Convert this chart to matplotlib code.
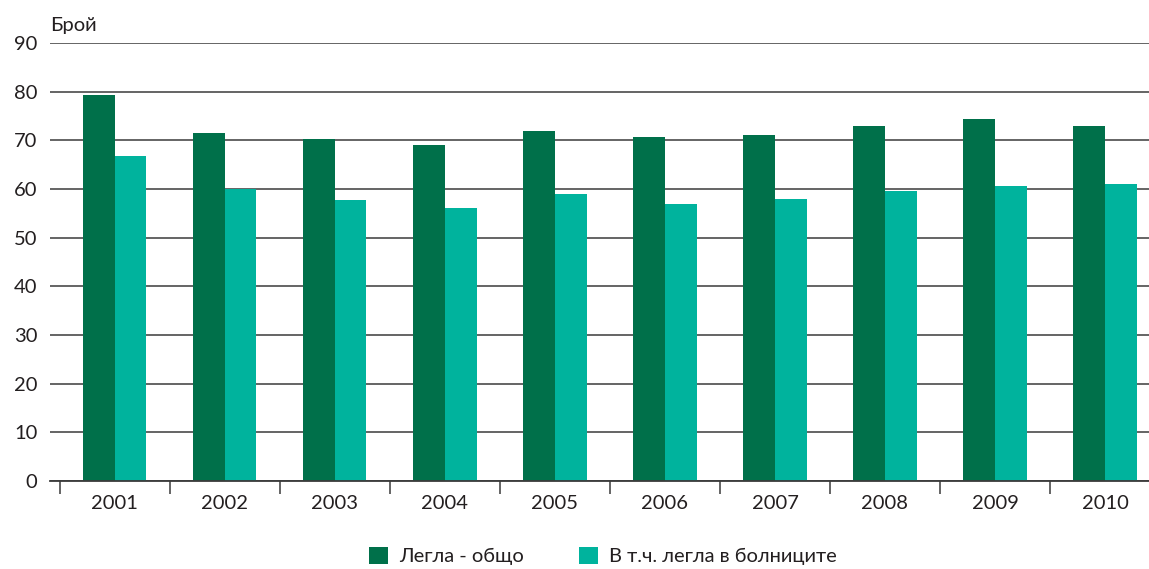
import numpy as np
import matplotlib.pyplot as plt
from matplotlib.patches import Patch

# --- data ---
years = ['2001', '2002', '2003', '2004', '2005', '2006', '2007', '2008', '2009', '2010']
beds_total = [79.3, 71.5, 70.2, 69.0, 71.9, 70.7, 71.1, 72.9, 74.4, 72.9]
beds_hospitals = [66.8, 59.9, 57.8, 56.1, 59.0, 57.0, 58.0, 59.6, 60.6, 61.0]
series_labels = ['Легла - общо', 'В т.ч. легла в болниците']
y_label = 'Брой'

DARK = '#00704A'
LIGHT = '#00B39D'
TEXT = '#231F20'
FS = 14.5

plt.rcParams['font.family'] = ['Lato', 'DejaVu Sans']
plt.rcParams['font.size'] = FS

fig = plt.figure(figsize=(11.49, 5.69), dpi=100)
W, H = 1149, 569
ax = fig.add_axes([50 / W, (H - 481) / H, (1149 - 50) / W, (481 - 43) / H])

x = np.arange(len(years))
w = 0.287
ax.bar(x - w / 2, beds_total, w, color=DARK, zorder=3)
ax.bar(x + w / 2, beds_hospitals, w, color=LIGHT, zorder=3)

ax.set_yticks(np.arange(0, 91, 10))
ax.yaxis.grid(True, color='#3a3a3a', linewidth=1.1, zorder=0)
ax.set_axisbelow(True)

# category ticks sit on boundaries, labels centred on groups
ax.set_xticks(np.arange(-0.5, 9.6, 1.0))
ax.set_xticklabels([])
ax.set_xticks(x, minor=True)
ax.set_xticklabels(years, minor=True)
ax.tick_params(axis='x', which='major', length=9, width=1.1, color='#3a3a3a', direction='out')
ax.tick_params(axis='x', which='minor', length=0, pad=10, labelcolor=TEXT, labelsize=FS)
ax.tick_params(axis='y', length=0, pad=9, labelcolor=TEXT, labelsize=FS)

# limits last, so the boundary ticks do not widen the view
ax.set_ylim(0, 90)
ax.set_xlim(-0.59, 9.40)

for s in ['top', 'right', 'left']:
    ax.spines[s].set_visible(False)
ax.spines['bottom'].set_color('#3a3a3a')
ax.spines['bottom'].set_linewidth(1.3)
ax.spines['bottom'].set_zorder(4)

fig.text(50 / W, 1 - 26 / H, y_label, ha='left', va='center', color=TEXT, fontsize=FS)

handles = [Patch(facecolor=DARK), Patch(facecolor=LIGHT)]
fig.legend(handles, series_labels, loc='center', bbox_to_anchor=(603 / W, 1 - 556 / H),
           ncol=2, frameon=False, handlelength=0.95, handleheight=0.95,
           handletextpad=0.55, columnspacing=2.7, fontsize=FS, labelcolor=TEXT)

fig.savefig('out.png', dpi=100)
